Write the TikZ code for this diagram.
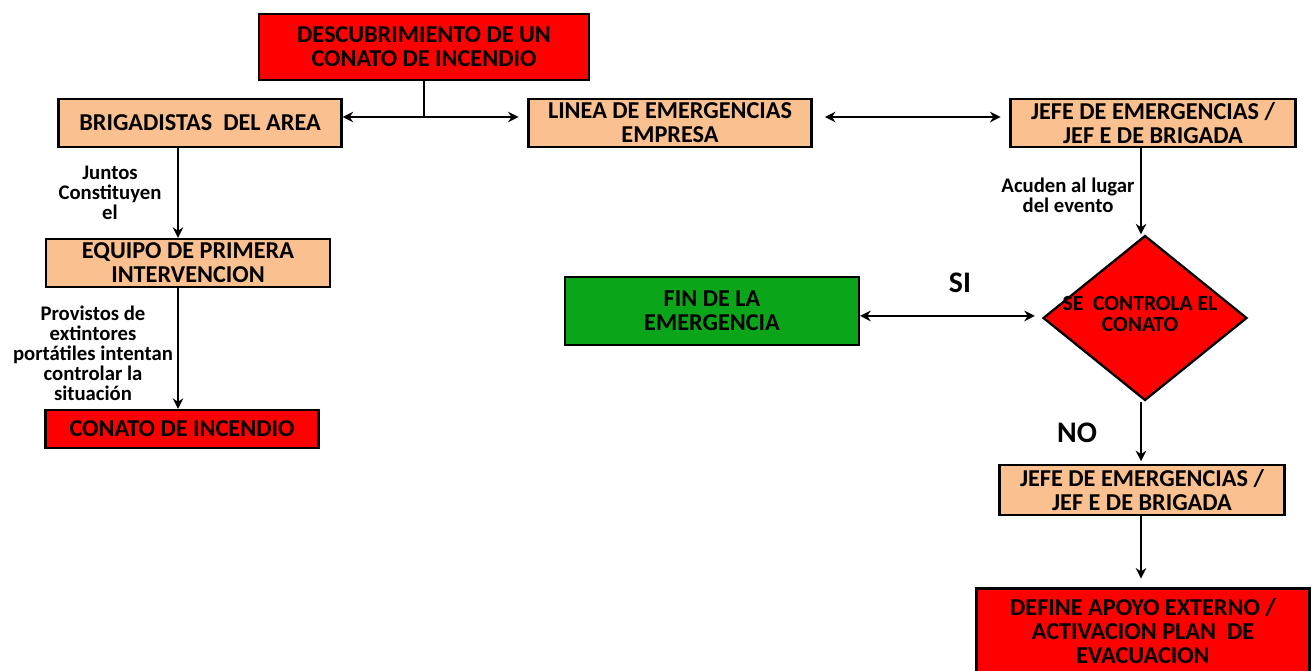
\documentclass[tikz,border=0pt]{standalone}
\usepackage{fontspec}
\setmainfont{Carlito}
\usetikzlibrary{shapes.geometric,arrows.meta}
\definecolor{peach}{RGB}{250,192,143}
\definecolor{alarm}{RGB}{255,0,0}
\definecolor{okgreen}{RGB}{10,165,25}

\begin{document}
\begin{tikzpicture}[x=0.02cm, y=-0.02cm,
    box/.style={draw, rectangle, line width=1.3pt, align=center, inner sep=2pt,
        font=\bfseries\fontsize{13.8}{13.8}\selectfont},
    boxo/.style={box, fill=peach},
    boxr/.style={box, fill=alarm},
    boxg/.style={box, fill=okgreen},
    decision/.style={draw, diamond, line width=1.3pt, fill=alarm, inner sep=0pt, aspect=1.24, minimum width=4.08cm, minimum height=3.3cm},
    lbl/.style={align=center, font=\bfseries\fontsize{11.8}{11.4}\selectfont},
    big/.style={font=\bfseries\fontsize{17}{18}\selectfont},
    flecha/.style={line width=1.1pt, -{Stealth[length=6pt,width=6pt]}},
    dflecha/.style={line width=1.1pt, {Stealth[length=6pt,width=6pt]}-{Stealth[length=6pt,width=6pt]}}]
        \useasboundingbox (0,0) rectangle (1314,670);

        \node (descubrimiento) [boxr, minimum width=6.6cm, minimum height=1.32cm] at (424,47) {DESCUBRIMIENTO DE UN\\CONATO DE INCENDIO};
        \node (brigadistas) [boxo, minimum width=5.66cm, minimum height=0.96cm] at (200,123) {BRIGADISTAS\ \ DEL AREA};
        \node (linea) [boxo, minimum width=5.66cm, minimum height=0.96cm] at (670,123) {LINEA DE EMERGENCIAS\\EMPRESA};
        \node (jefe) [boxo, minimum width=5.7cm, minimum height=0.96cm] at (1153,123) {JEFE DE EMERGENCIAS /\\JEF E DE BRIGADA};
        \node (equipo) [boxo, minimum width=5.68cm, minimum height=0.96cm] at (188,263) {EQUIPO DE PRIMERA\\INTERVENCION};
        \node (conato) [boxr, minimum width=5.46cm, minimum height=0.76cm] at (182,429) {CONATO DE INCENDIO};
        \node (fin) [boxg, minimum width=5.88cm, minimum height=1.36cm] at (712,311) {FIN DE LA\\EMERGENCIA};
        \node (control) [decision] at (1145,318) {};
        \node (controltxt) [align=center, font=\bfseries\fontsize{12.3}{12}\selectfont] at (1140,314) {SE\ \ CONTROLA EL\\CONATO};
        \node (jefeb) [boxo, minimum width=5.7cm, minimum height=1cm] at (1142,490) {JEFE DE EMERGENCIAS /\\JEF E DE BRIGADA};
        \node (apoyo) [boxr, minimum width=6.66cm, minimum height=1.7cm] at (1143,631) {DEFINE APOYO EXTERNO /\\ACTIVACION PLAN\ \ DE\\EVACUACION};

        \node (juntos) [lbl] at (110,193) {Juntos\\Constituyen\\el};
        \node (provistos) [lbl] at (93,353) {Provistos de\\extintores\\portátiles intentan\\controlar la\\situación};
        \node (acuden) [lbl] at (1068,195) {Acuden al lugar\\del evento};
        \node (si) [big] at (960,283) {SI};
        \node (no) [big] at (1077,433) {NO};

        \coordinate (split) at (424,117);
        \coordinate (colL) at (178,0);
        \coordinate (colR) at (1141,0);

        \draw[line width=1.1pt] (descubrimiento) -- (split);
        \draw[flecha] (split) -- (split -| brigadistas.east);
        \draw[flecha, shorten >=5pt] (split) -- (split -| linea.west);
        \draw[dflecha, shorten <=7pt, shorten >=5pt] ([yshift=3.4pt]linea.east) -- ([yshift=3.4pt]jefe.west);
        \draw[flecha] (brigadistas.south -| colL) -- (equipo.north -| colL);
        \draw[flecha] (equipo.south -| colL) -- (conato.north -| colL);
        \draw[flecha] (jefe.south -| colR) -- (control.north -| colR);
        \draw[dflecha, shorten >=4pt] ([yshift=-2.8pt]fin.east) -- ([yshift=-2.8pt]fin.east -| control.west);
        \draw[flecha] (control.south -| colR) -- ([yshift=1.5pt]jefeb.north -| colR);
        \draw[flecha, shorten >=5pt] (jefeb.south -| colR) -- (apoyo.north -| colR);
    \end{tikzpicture}
\end{document}
